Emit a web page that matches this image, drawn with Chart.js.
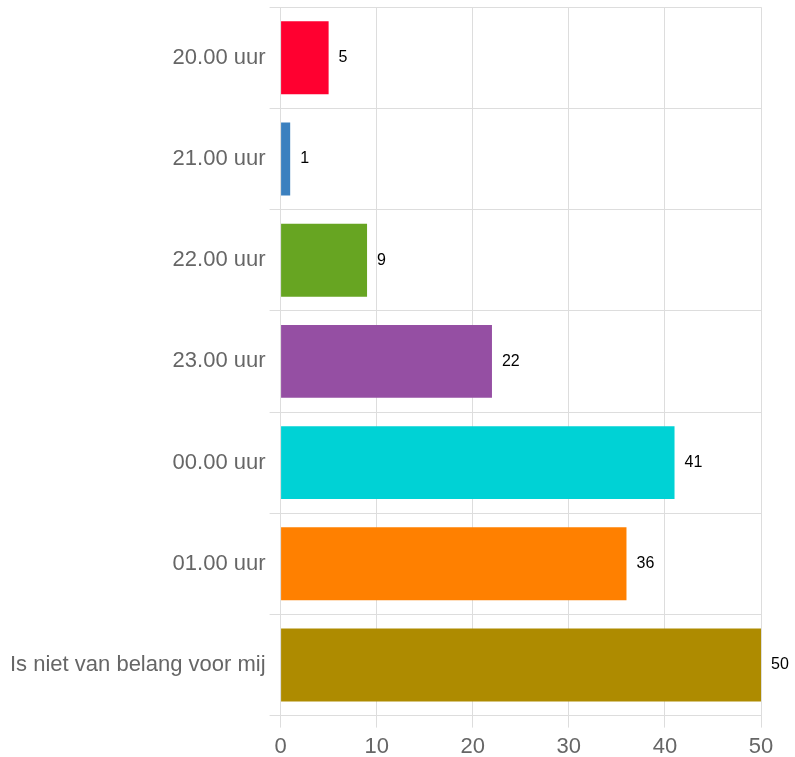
<!DOCTYPE html>
<html>
<head>
<meta charset="utf-8">
<script src="https://cdn.jsdelivr.net/npm/chart.js@4"></script>
<style>
  html, body { margin: 0; padding: 0; background: #fff; overflow: hidden; }
  #wrap { width: 795px; height: 776px; margin-top: -10px; }
</style>
</head>
<body>
<div id="wrap"><canvas id="canvas"></canvas></div>
<script>
const categories = ['20.00 uur', '21.00 uur', '22.00 uur', '23.00 uur', '00.00 uur', '01.00 uur', 'Is niet van belang voor mij'];
const counts = [5, 1, 9, 22, 41, 36, 50];
const barColors = ['#ff0030', '#3b80bf', '#67a522', '#954fa3', '#00d2d5', '#ff8000', '#ae8b00'];
const xTicks = [0, 10, 20, 30, 40, 50];

const FONT = '"Helvetica Neue", Helvetica, "Liberation Sans", Arial, sans-serif';

// draws the number to the right of each bar
const valueLabels = {
  id: 'valueLabels',
  afterDatasetsDraw(chart) {
    const ctx = chart.ctx;
    ctx.save();
    ctx.font = '16px ' + FONT;
    ctx.fillStyle = '#000';
    ctx.textBaseline = 'middle';
    ctx.textAlign = 'left';
    chart.getDatasetMeta(0).data.forEach((bar, i) => {
      ctx.fillText(String(counts[i]), bar.x + 10, bar.y);
    });
    ctx.restore();
  }
};

new Chart(document.getElementById('canvas'), {
  type: 'bar',
  data: {
    labels: categories,
    datasets: [{
      data: counts,
      backgroundColor: barColors,
      borderWidth: 0
    }]
  },
  options: {
    indexAxis: 'y',
    responsive: true,
    maintainAspectRatio: false,
    animation: false,
    layout: { padding: { top: 0, right: 34, left: 6, bottom: 0 } },
    plugins: {
      legend: { display: false },
      tooltip: { enabled: false }
    },
    scales: {
      x: {
        min: 0,
        max: 50,
        afterBuildTicks(axis) { axis.ticks = xTicks.map(v => ({ value: v })); },
        grid: { color: '#dddddd', tickLength: 12 },
        border: { color: '#dddddd' },
        ticks: { color: '#666', font: { size: 22, family: FONT }, padding: 6 }
      },
      y: {
        grid: { color: '#dddddd', offset: true, tickLength: 11 },
        border: { color: '#dddddd' },
        ticks: { color: '#666', font: { size: 22, family: FONT }, padding: 4 }
      }
    }
  },
  plugins: [valueLabels]
});
</script>
</body>
</html>
